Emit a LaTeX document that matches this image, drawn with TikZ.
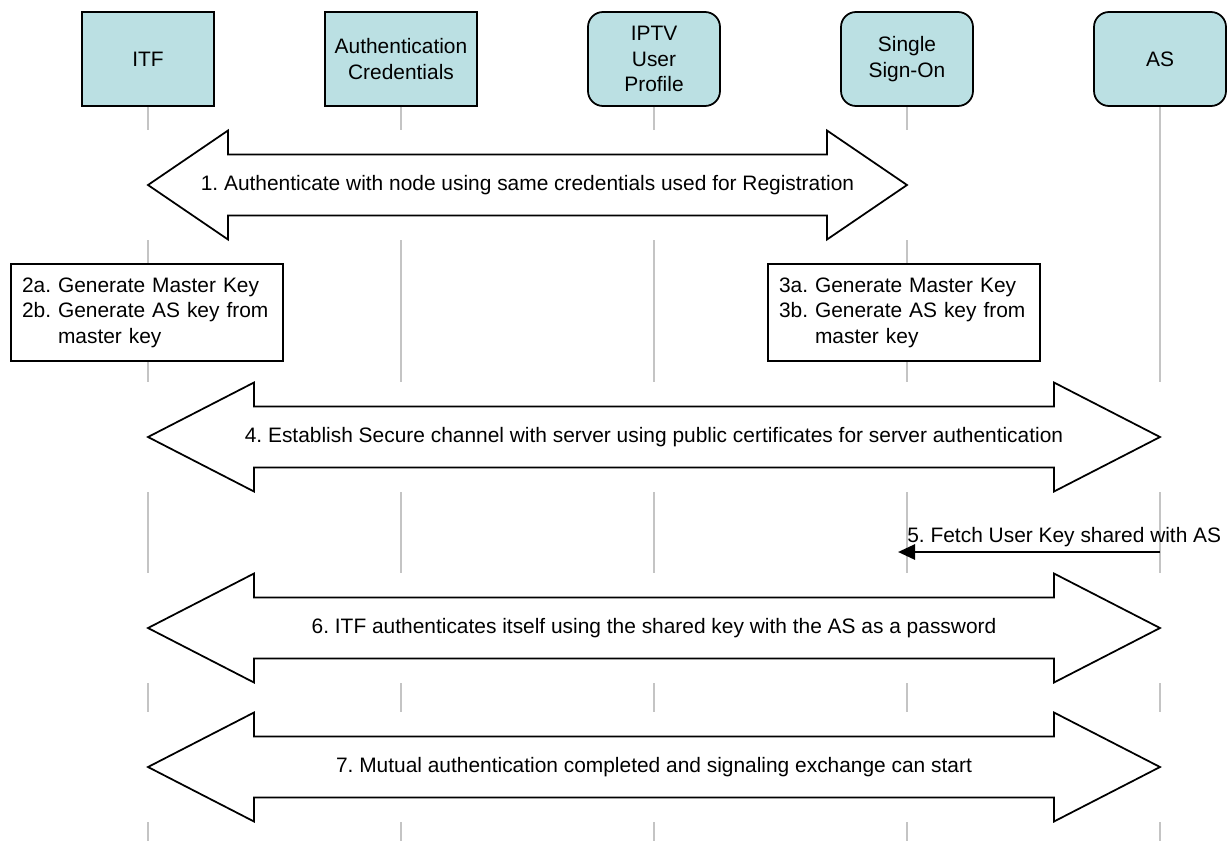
\documentclass[tikz,border=0pt]{standalone}
\usepackage{fontspec}
\setmainfont{Liberation Sans}
\usepackage{tikz}
\usetikzlibrary{arrows.meta, calc, positioning}
\usepackage{xcolor}
\definecolor{entityteal}{RGB}{187, 224, 227}
\definecolor{lifegray}{RGB}{196, 196, 196}
\frenchspacing
\newcommand{\diagfont}{\fontsize{11.9}{14.5}\selectfont}
% two-headed block arrow between two points, head length #3
\newcommand{\twowayarrow}[3]{%
  \fill[white] ($(#1)+(-0.06,1.1)$) rectangle ($(#2)+(0.06,-1.1)$);
  \draw[blockarrow] (#1) -- ++(#3,1.09) -- ++(0,-0.48)
    -- ($(#2)+(-#3,0.61)$) -- ++(0,0.48) -- (#2) -- ++(-#3,-1.09)
    -- ++(0,0.48) -- ($(#1)+(#3,-0.61)$) -- ++(0,-0.48) -- cycle;}

\tikzset{
  entity/.style={draw=black, line width=1pt, fill=entityteal, align=center,
    minimum width=2.64cm, minimum height=1.88cm, inner sep=1pt, font=\diagfont},
  roundentity/.style={entity, rounded corners=0.3cm},
  lifeline/.style={lifegray, line width=1.1pt},
  notebox/.style={draw=black, line width=1pt, fill=white, align=left,
    text width=5.0cm, inner xsep=0.22cm, minimum height=1.94cm, font=\diagfont},
  blockarrow/.style={draw=black, line width=1pt, fill=white, line join=miter},
  msgtext/.style={font=\diagfont, inner sep=0pt},
  msgarrow/.style={-{Triangle[length=0.34cm, width=0.3cm]}, line width=1.6pt}
}

\begin{document}
\begin{tikzpicture}
  \useasboundingbox (0,0) rectangle (24.56,-16.82);
  % participants
  \node[entity] (itf) at (2.96,-1.18) {ITF};
  \node[entity, minimum width=3.04cm] (cred) at (8.02,-1.18) {Authentication\\Credentials};
  \node[roundentity] (prof) at (13.08,-1.18) {IPTV\\User\\Profile};
  \node[roundentity] (sso) at (18.14,-1.18) {Single\\Sign-On};
  \node[roundentity] (as) at (23.20,-1.18) {AS};
  % lifelines
  \foreach \ent/\x in {itf/2.96, cred/8.02, prof/13.08, sso/18.14, as/23.2} {
    \coordinate (low\ent) at (\x,-16.82);
    \draw[lifeline] (\ent.south -| low\ent) -- (low\ent);
  }
  % rows of the exchanges
  \coordinate (row1) at (0,-3.7);
  \coordinate (row4) at (0,-8.74);
  \coordinate (row5) at (0,-11.04);
  \coordinate (row6) at (0,-12.56);
  \coordinate (row7) at (0,-15.34);
  % step 1
  \coordinate (itf1) at (lowitf |- row1);
  \coordinate (sso1) at (lowsso |- row1);
  \twowayarrow{itf1}{sso1}{1.6}
  \node[msgtext] (auth) at ($(itf1)!0.5!(sso1)$)
    {1. Authenticate with node using same credentials used for Registration};
  % steps 2 and 3
  \node[notebox] (genitf) at (2.94,-6.25)
    {2a. Generate Master Key\\2b. Generate AS key from\\\phantom{2b. }master key};
  \node[notebox] (genso) at (18.08,-6.25)
    {3a. Generate Master Key\\3b. Generate AS key from\\\phantom{3b. }master key};
  % step 4
  \coordinate (itf4) at (lowitf |- row4);
  \coordinate (as4) at (lowas |- row4);
  \twowayarrow{itf4}{as4}{2.12}
  \node[msgtext] (secure) at ($(itf4)!0.5!(as4)$)
    {4. Establish Secure channel with server using public certificates for server authentication};
  % step 5
  \coordinate (as5) at (lowas |- row5);
  \coordinate (sso5) at (lowsso |- row5);
  \draw[msgarrow, shorten >=-0.18cm] (as5) -- (sso5);
  \node[msgtext, anchor=base west] (fetch) at ($(sso5)+(0,0.2)$)
    {5. Fetch User Key shared with AS};
  % step 6
  \coordinate (itf6) at (lowitf |- row6);
  \coordinate (as6) at (lowas |- row6);
  \twowayarrow{itf6}{as6}{2.12}
  \node[msgtext] (itfauth) at ($(itf6)!0.5!(as6)$)
    {6. ITF authenticates itself using the shared key with the AS as a password};
  % step 7
  \coordinate (itf7) at (lowitf |- row7);
  \coordinate (as7) at (lowas |- row7);
  \twowayarrow{itf7}{as7}{2.12}
  \node[msgtext] (mutual) at ($(itf7)!0.5!(as7)$)
    {7. Mutual authentication completed and signaling exchange can start};
\end{tikzpicture}
\end{document}
